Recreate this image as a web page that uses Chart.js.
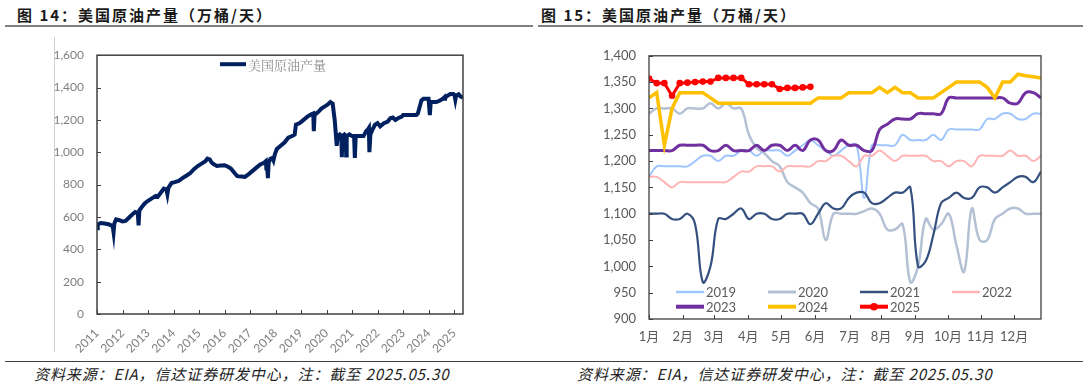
<!DOCTYPE html>
<html>
<head>
<meta charset="utf-8">
<script src="https://cdn.jsdelivr.net/npm/chart.js@4.4.1/dist/chart.umd.min.js"></script>
<style>
  body { margin: 0; background: #fff; width: 1088px; height: 387px; overflow: hidden; position: relative; font-family: "Noto Sans CJK SC", sans-serif; }
  .title { position: absolute; top: 4px; font-size: 15px; font-weight: bold; color: #1a1a1a; letter-spacing: 2px; white-space: nowrap; line-height: 22px; }
  .rule { position: absolute; top: 25px; height: 2px; background: #808080; }
  .foot { position: absolute; top: 361px; left: 5px; width: 1078px; height: 1px; background: #404040; }
  .src { position: absolute; top: 363px; font-size: 15px; font-style: italic; color: #222; white-space: nowrap; line-height: 22px; letter-spacing: 0.9px; }
  .frame { position: absolute; left: 54px; top: 37px; width: 1px; height: 315px; background: #d0d0d0; }
  canvas { position: absolute; }
</style>
</head>
<body>
<div class="title" style="left:17px">图 14：美国原油产量（万桶/天）</div>
<div class="title" style="left:541px">图 15：美国原油产量（万桶/天）</div>
<div class="rule" style="left:5px;width:528px"></div>
<div class="rule" style="left:538px;width:545px"></div>
<div class="frame"></div>
<canvas id="histChart" width="440" height="320" style="left:40px;top:35px"></canvas>
<canvas id="seasonChart" width="470" height="320" style="left:590px;top:35px"></canvas>
<div class="foot"></div>
<div class="src" style="left:34px">资料来源：EIA，信达证券研发中心，注：截至 2025.05.30</div>
<div class="src" style="left:577px">资料来源：EIA，信达证券研发中心，注：截至 2025.05.30</div>

<script>
// ---- 图14: weekly output (decimal year, 万桶/天) ----
const usDates = [
  2011.00, 2011.03, 2011.15, 2011.30, 2011.45, 2011.55, 2011.62, 2011.65, 2011.68, 2011.75,
  2011.88, 2012.00, 2012.12, 2012.25, 2012.38, 2012.50, 2012.60, 2012.63, 2012.66, 2012.75,
  2012.88, 2013.00, 2013.15, 2013.30, 2013.38, 2013.50, 2013.62, 2013.72, 2013.76, 2013.80,
  2013.92, 2014.05, 2014.20, 2014.35, 2014.50, 2014.65, 2014.80, 2014.95, 2015.10, 2015.25,
  2015.33, 2015.42, 2015.50, 2015.58, 2015.70, 2015.85, 2016.00, 2016.12, 2016.25, 2016.40,
  2016.50, 2016.65, 2016.80, 2016.95, 2017.10, 2017.25, 2017.40, 2017.55, 2017.62, 2017.64,
  2017.66, 2017.70, 2017.73, 2017.80, 2017.88, 2017.92, 2017.97, 2018.05, 2018.20, 2018.35,
  2018.50, 2018.65, 2018.75, 2018.80, 2018.95, 2019.10, 2019.25, 2019.40, 2019.48, 2019.50,
  2019.53, 2019.65, 2019.80, 2019.95, 2020.05, 2020.15, 2020.24, 2020.32, 2020.40, 2020.44,
  2020.52, 2020.58, 2020.60, 2020.62, 2020.70, 2020.75, 2020.77, 2020.79, 2020.90, 2021.00,
  2021.08, 2021.11, 2021.14, 2021.20, 2021.35, 2021.45, 2021.55, 2021.62, 2021.66, 2021.68,
  2021.72, 2021.80, 2021.90, 2022.00, 2022.10, 2022.25, 2022.40, 2022.50, 2022.60, 2022.70,
  2022.80, 2022.95, 2023.00, 2023.20, 2023.40, 2023.52, 2023.58, 2023.65, 2023.72, 2023.80,
  2023.95, 2024.00, 2024.05, 2024.08, 2024.12, 2024.30, 2024.45, 2024.55, 2024.62, 2024.64,
  2024.66, 2024.75, 2024.85, 2024.97, 2025.02, 2025.05, 2025.08, 2025.18, 2025.25, 2025.32,
  2025.35
];
const usOutput = [
  530, 555, 562, 560, 555, 548, 540, 505, 560, 585,
  580, 572, 575, 595, 615, 630, 625, 548, 640, 660,
  685, 700, 715, 730, 725, 750, 775, 770, 740, 780,
  810, 815, 822, 840, 855, 870, 895, 915, 930, 945,
  960, 955, 935, 925, 915, 918, 920, 912, 900, 870,
  852, 850, 848, 865, 885, 905, 925, 935, 945, 900,
  940, 840, 935, 960, 965, 950, 985, 1020, 1040, 1060,
  1090, 1100, 1110, 1170, 1180, 1200, 1220, 1235, 1240, 1130,
  1230, 1245, 1270, 1285, 1295, 1310, 1300, 1200, 1040, 1100,
  1110, 1100, 970, 1100, 1110, 1100, 980, 1100, 1110, 1100,
  1100, 965, 1090, 1100, 1100, 1100, 1130, 1140, 1150, 1000,
  1110, 1140, 1170, 1180, 1160, 1180, 1190, 1210, 1215, 1200,
  1210, 1220, 1230, 1230, 1230, 1230, 1240, 1280, 1320, 1330,
  1330, 1330, 1230, 1300, 1310, 1310, 1320, 1330, 1340, 1320,
  1340, 1350, 1360, 1360, 1350, 1325, 1350, 1358, 1346, 1340,
  1340
];
const yearTicks = [2011, 2012, 2013, 2014, 2015, 2016, 2017, 2018, 2019, 2020, 2021, 2022, 2023, 2024, 2025];

// ---- 图15: seasonal weekly series (week index 0..51) ----
const monthPos = [0, 4.4, 8.45, 12.9, 17.2, 21.6, 26.1, 30.2, 34.6, 38.9, 43.2, 47.5];
const monthLabels = ["1月", "2月", "3月", "4月", "5月", "6月", "7月", "8月", "9月", "10月", "11月", "12月"];
const seasonYears = ["2019", "2020", "2021", "2022", "2023", "2024", "2025"];
const y2019 = [
  1170, 1190, 1190, 1190, 1190, 1190, 1200, 1210, 1210, 1200,
  1210, 1210, 1220, 1220, 1210, 1220, 1220, 1220, 1210, 1220,
  1230, 1240, 1230, 1220, 1210, 1220, 1230, 1230, 1130, 1230,
  1230, 1230, 1230, 1250, 1240, 1240, 1240, 1250, 1240, 1260,
  1260, 1260, 1260, 1260, 1280, 1280, 1290, 1290, 1280, 1280,
  1290, 1290
];
const y2020 = [
  1290, 1300, 1300, 1300, 1290, 1300, 1300, 1300, 1310, 1300,
  1310, 1300, 1300, 1250, 1225, 1215, 1200, 1190, 1160, 1150,
  1140, 1120, 1110, 1050, 1100, 1100, 1100, 1100, 1105, 1110,
  1100, 1070, 1070, 1080, 970, 1000, 1090, 1070, 1080, 1100,
  1040, 990, 1110, 1050, 1050, 1090, 1100, 1110, 1110, 1100,
  1100, 1100
];
const y2021 = [
  1100, 1100, 1100, 1090, 1090, 1100, 1080, 970, 1000, 1090,
  1090, 1100, 1110, 1090, 1100, 1100, 1090, 1090, 1100, 1100,
  1100, 1080, 1100, 1120, 1110, 1110, 1130, 1140, 1140, 1120,
  1120, 1130, 1140, 1140, 1150, 1000, 1010, 1060, 1120, 1130,
  1140, 1130, 1130, 1150, 1150, 1140, 1150, 1160, 1170, 1170,
  1160, 1180
];
const y2022 = [
  1170, 1170, 1160, 1150, 1160, 1160, 1160, 1160, 1160, 1160,
  1160, 1170, 1180, 1180, 1190, 1190, 1190, 1180, 1190, 1190,
  1190, 1190, 1200, 1200, 1210, 1210, 1200, 1190, 1210, 1210,
  1220, 1210, 1200, 1210, 1210, 1210, 1210, 1200, 1200, 1190,
  1200, 1200, 1190, 1210, 1210, 1210, 1210, 1220, 1210, 1210,
  1200, 1210
];
const y2023 = [
  1220, 1220, 1220, 1220, 1230, 1230, 1230, 1230, 1220, 1220,
  1230, 1220, 1220, 1220, 1230, 1220, 1230, 1230, 1220, 1230,
  1220, 1240, 1240, 1220, 1220, 1240, 1230, 1230, 1220, 1220,
  1260, 1270, 1280, 1280, 1280, 1290, 1290, 1290, 1290, 1320,
  1320, 1320, 1320, 1320, 1320, 1320, 1320, 1310, 1310, 1330,
  1330, 1320
];
const y2024 = [
  1320, 1330, 1230, 1300, 1330, 1330, 1330, 1330, 1320, 1310,
  1310, 1310, 1310, 1310, 1310, 1310, 1310, 1310, 1310, 1310,
  1310, 1310, 1320, 1320, 1320, 1320, 1330, 1330, 1330, 1330,
  1340, 1330, 1340, 1330, 1330, 1320, 1320, 1320, 1330, 1340,
  1350, 1350, 1350, 1350, 1340, 1320, 1350, 1350, 1365, 1362,
  1360, 1358
];
const y2025 = [
  1357, 1348, 1348, 1324, 1348, 1349, 1350, 1351, 1351, 1358,
  1358, 1358, 1358, 1346, 1346, 1346, 1346, 1337, 1339, 1339,
  1340, 1341
];

const tickFont = 'Lato, "Noto Sans CJK SC", sans-serif';

// short tick marks pointing into the plot, plus the box round it
const innerTicks = {
  id: "innerTicks",
  afterDraw(chart, args, opts) {
    const { ctx, chartArea: a, scales: { x, y } } = chart;
    ctx.save();
    ctx.strokeStyle = opts.color;
    ctx.lineWidth = 1;
    ctx.beginPath();
    y.ticks.forEach(t => {
      const py = Math.round(y.getPixelForValue(t.value)) + 0.5;
      ctx.moveTo(a.left, py);
      ctx.lineTo(a.left + opts.len, py);
    });
    x.ticks.forEach(t => {
      const px = Math.round(x.getPixelForValue(t.value)) + 0.5;
      ctx.moveTo(px, a.bottom);
      ctx.lineTo(px, a.bottom - opts.len);
    });
    ctx.stroke();
    ctx.lineWidth = opts.frame;
    ctx.strokeRect(a.left, a.top, a.right - a.left, a.bottom - a.top);
    ctx.restore();
  }
};

// legend drawn inside the plot area, in a grid
const gridLegend = {
  id: "gridLegend",
  afterDraw(chart, args, o) {
    const { ctx, chartArea: a } = chart;
    ctx.save();
    ctx.font = o.font;
    ctx.textBaseline = "middle";
    chart.data.datasets.forEach((ds, i) => {
      const col = i % o.cols, row = Math.floor(i / o.cols);
      const x0 = a.left + o.x + col * o.colW;
      const y0 = o.fromTop ? a.top + o.y + row * o.rowH : a.bottom - o.y + row * o.rowH;
      ctx.strokeStyle = ds.borderColor;
      ctx.lineWidth = ds.legendWidth || ds.borderWidth;
      ctx.beginPath();
      ctx.moveTo(x0, y0);
      ctx.lineTo(x0 + o.len, y0);
      ctx.stroke();
      if (ds.pointRadius) {
        ctx.fillStyle = ds.borderColor;
        ctx.beginPath();
        ctx.arc(x0 + o.len / 2, y0, ds.pointRadius + 0.5, 0, Math.PI * 2);
        ctx.fill();
      }
      ctx.fillStyle = o.color;
      ctx.fillText(ds.label, x0 + o.len + 2, y0 + 1);
    });
    ctx.restore();
  }
};

new Chart(document.getElementById("histChart"), {
  type: "line",
  data: {
    datasets: [{
      label: "美国原油产量",
      data: usDates.map((d, i) => ({ x: d, y: usOutput[i] })),
      borderColor: "#002060",
      borderWidth: 4,
      legendWidth: 4,
      pointRadius: 0,
      tension: 0
    }]
  },
  options: {
    responsive: false,
    animation: false,
    layout: { padding: { top: 12, right: 17, left: 0, bottom: 0 } },
    scales: {
      x: {
        type: "linear",
        min: 2011,
        max: 2025.35,
        afterBuildTicks: s => { s.ticks = yearTicks.map(v => ({ value: v })); },
        afterFit: s => { s.height = 41; },
        grid: { display: false, drawTicks: false },
        border: { display: false },
        ticks: {
          autoSkip: false,
          minRotation: 45,
          maxRotation: 45,
          padding: 12,
          color: "#7f7f7f",
          font: { family: tickFont, size: 12 },
          callback: v => String(v)
        }
      },
      y: {
        min: 0,
        max: 1600,
        afterFit: s => { s.width = 57; },
        grid: { display: false, drawTicks: false },
        border: { display: false },
        ticks: {
          stepSize: 200,
          padding: 13,
          color: "#7f7f7f",
          font: { family: tickFont, size: 12 },
          callback: v => v.toLocaleString("en-US")
        }
      }
    },
    plugins: {
      legend: { display: false },
      tooltip: { enabled: false },
      innerTicks: { color: "#404040", len: 4, frame: 1.5 },
      gridLegend: { fromTop: true, cols: 1, x: 123, y: 9, colW: 0, rowH: 0, len: 26, color: "#8c8c8c",
                    font: '13px "Noto Serif CJK SC", "Noto Sans CJK SC", serif' }
    }
  },
  plugins: [innerTicks, gridLegend]
});

const seasonColors = ["#9fc5ff", "#b4c0d4", "#34507f", "#ffb4b4", "#7030a0", "#ffc000", "#ff0000"];
const seasonWidths = [2, 2.5, 2.2, 2, 3, 3.5, 3];
const seasonLegendWidths = [2.5, 3, 2.5, 2.5, 4, 4, 4];
const seasonData = [y2019, y2020, y2021, y2022, y2023, y2024, y2025];

new Chart(document.getElementById("seasonChart"), {
  type: "line",
  data: {
    datasets: seasonYears.map((yr, i) => ({
      label: yr,
      data: seasonData[i].map((v, w) => ({ x: w, y: v })),
      borderColor: seasonColors[i],
      backgroundColor: seasonColors[i],
      borderWidth: seasonWidths[i],
      legendWidth: seasonLegendWidths[i],
      pointRadius: yr === "2025" ? 3.3 : 0,
      pointBorderWidth: 0,
      tension: (yr === "2024" || yr === "2025") ? 0 : 0.4,
      order: seasonYears.length - i
    }))
  },
  options: {
    responsive: false,
    animation: false,
    layout: { padding: { top: 9, right: 19, left: 0, bottom: 0 } },
    scales: {
      x: {
        type: "linear",
        min: 0,
        max: 51,
        afterBuildTicks: s => { s.ticks = monthPos.map(v => ({ value: v })); },
        afterFit: s => { s.height = 36; },
        grid: { display: false, drawTicks: false },
        border: { display: false },
        ticks: {
          autoSkip: false,
          maxRotation: 0,
          padding: 10,
          color: "#595959",
          font: { family: tickFont, size: 13 },
          callback: (v, i) => monthLabels[i]
        }
      },
      y: {
        min: 900,
        max: 1400,
        afterFit: s => { s.width = 59; },
        grid: { display: false, drawTicks: false },
        border: { display: false },
        ticks: {
          stepSize: 50,
          padding: 13,
          color: "#595959",
          font: { family: tickFont, size: 13 },
          callback: v => v.toLocaleString("en-US")
        }
      }
    },
    plugins: {
      legend: { display: false },
      tooltip: { enabled: false },
      innerTicks: { color: "#404040", len: 4, frame: 1.3 },
      gridLegend: { cols: 4, x: 27, y: 27, colW: 92, rowH: 14.7, len: 28, color: "#595959",
                    font: '13px ' + tickFont }
    }
  },
  plugins: [innerTicks, gridLegend]
});
</script>
</body>
</html>
